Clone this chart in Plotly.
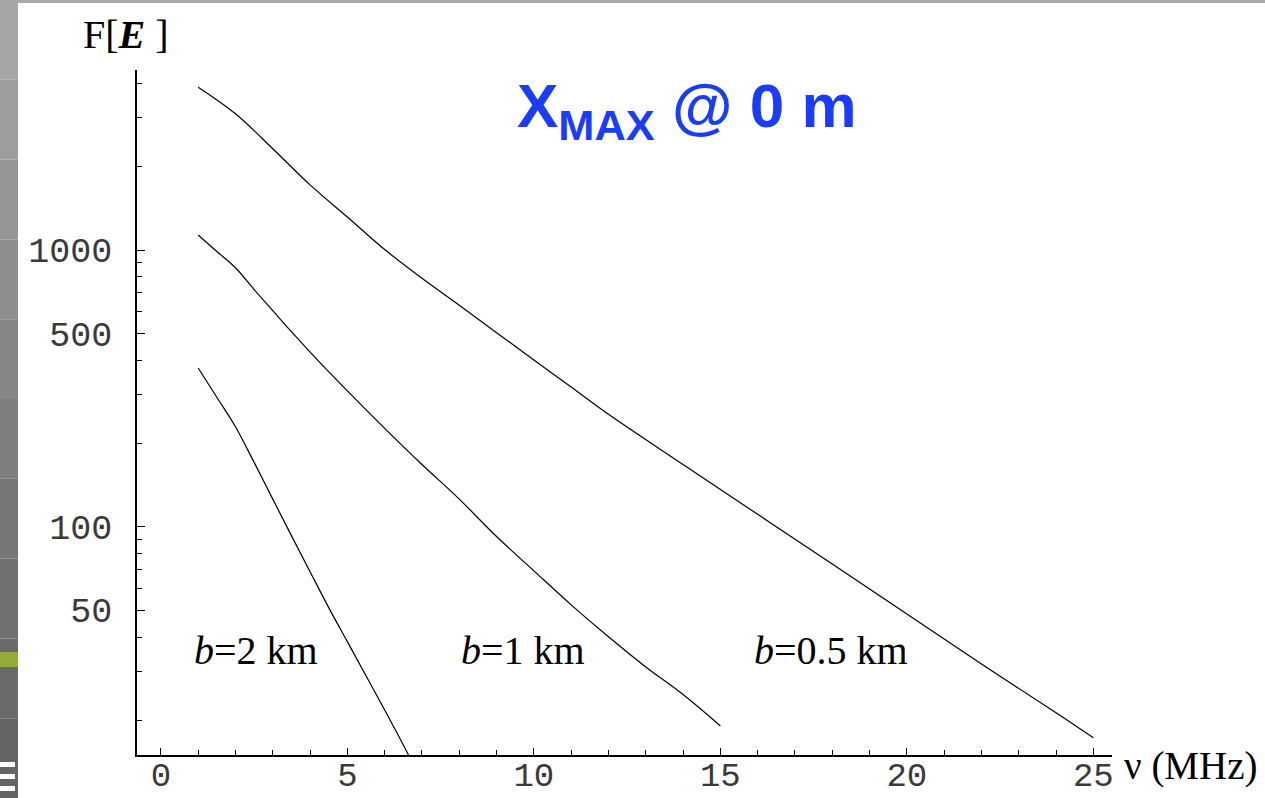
import math
import plotly.graph_objects as go

# ---- data ----
nu_b05 = [1, 2, 3, 4, 5, 6, 7, 8, 9, 10, 11, 12, 14, 16, 18, 20, 22, 24, 25]
F_b05 = [3874, 3105, 2323, 1719, 1316, 1004, 791, 632, 503, 401, 320, 255, 168, 111, 73.5, 48.5, 32.0, 21.3, 17.3]

nu_b1 = [1, 1.5, 2, 2.5, 3, 3.5, 4, 5, 6, 7, 8, 9, 10, 11, 12, 13, 14, 15]
F_b1 = [1133, 988, 863, 720, 604, 507, 428, 310, 227, 168, 126, 92.3, 69.4, 52.3, 40.1, 31.2, 24.8, 19.1]

nu_b2 = [1, 1.5, 2, 2.5, 3, 3.5, 4, 4.5, 5, 5.5, 6, 6.5, 7]
F_b2 = [375, 294, 230, 171, 126, 93, 68.9, 51.1, 38.5, 29.0, 21.8, 16.3, 12.0]

x_ticks = [0, 5, 10, 15, 20, 25]
y_ticks = [50, 100, 500, 1000]
y_minor = [20, 30, 40, 60, 70, 80, 90, 200, 300, 400, 600, 700, 800, 900, 2000, 3000, 4000]
curve_labels = ["<i>b</i>=2 km", "<i>b</i>=1 km", "<i>b</i>=0.5 km"]

# ---- layout geometry (pixels) ----
W, H = 1265, 798
ML, MR, MT, MB = 137, 153, 70, 43
PW, PH = W - ML - MR, H - MT - MB


def px(x):
    return (x - ML) / PW


def py(y):
    return (H - MB - y) / PH


fig = go.Figure()
for nu, F in [(nu_b05, F_b05), (nu_b1, F_b1), (nu_b2, F_b2)]:
    fig.add_trace(go.Scatter(x=nu, y=F, mode="lines",
                             line=dict(color="black", width=1.2, shape="spline", smoothing=1.0),
                             showlegend=False, hoverinfo="skip"))

serif = "Liberation Serif"
mono = "Liberation Mono"

fig.update_xaxes(range=[-0.64, 25.5], automargin=False, showline=True, linecolor="black",
                 linewidth=1.5, showgrid=False, zeroline=False, ticks="inside", ticklen=7,
                 tickwidth=1, tickcolor="black", tickmode="array", tickvals=x_ticks,
                 ticktext=[str(v) for v in x_ticks],
                 tickfont=dict(family=mono, size=34, color="#3a3a3a"), ticklabelstandoff=-12,
                 minor=dict(ticks="inside", ticklen=5, tickwidth=1, tickcolor="black",
                            dtick=1, tick0=0, showgrid=False))
fig.update_yaxes(type="log", range=[math.log10(15), math.log10(4470)], automargin=False,
                 showline=True, linecolor="black", linewidth=1.5, showgrid=False,
                 zeroline=False, ticks="inside", ticklen=8, tickwidth=1, tickcolor="black",
                 tickmode="array", tickvals=y_ticks, ticktext=[str(v) for v in y_ticks],
                 tickfont=dict(family=mono, size=35, color="#3a3a3a"), ticklabelstandoff=16,
                 minor=dict(ticks="inside", ticklen=5, tickwidth=1, tickcolor="black",
                            tickmode="array", tickvals=y_minor, showgrid=False))

ann = []
# axis titles
ann.append(dict(text="F[<b><i>E</i></b> ]", x=px(126), y=py(34), xref="paper", yref="paper",
                xanchor="center", yanchor="middle", showarrow=False,
                font=dict(family=serif, size=40, color="black")))
ann.append(dict(text="ν (MHz)", x=px(1122), y=py(766), xref="paper", yref="paper",
                xanchor="left", yanchor="middle", showarrow=False,
                font=dict(family=serif, size=39, color="black")))
# curve labels
for lab, xl in zip(curve_labels, [192, 459, 752]):
    ann.append(dict(text=lab, x=px(xl), y=py(650), xref="paper", yref="paper",
                    xanchor="left", yanchor="middle", showarrow=False,
                    font=dict(family=serif, size=40, color="black")))
# title
ann.append(dict(text="<b>X<sub>MAX</sub> @ 0 m</b>", x=px(687), y=py(110), xref="paper",
                yref="paper", xanchor="center", yanchor="middle", showarrow=False,
                font=dict(family="Liberation Sans", size=62, color="#1a3cff")))

# slide decoration: left strip, top strip, green bar, white lines
shapes = []
grays = ["#a6a6a6", "#9e9e9e", "#969696", "#8e8e8e", "#868686", "#7e7e7e",
         "#777777", "#707070", "#6a6a6a", "#646464"]
n = len(grays)
for i, g in enumerate(grays):
    y0 = i * H / n
    y1 = (i + 1) * H / n
    shapes.append(dict(type="rect", xref="paper", yref="paper", x0=px(0), x1=px(18),
                       y0=py(y1), y1=py(y0), fillcolor=g, line=dict(width=0), layer="below"))
shapes.append(dict(type="rect", xref="paper", yref="paper", x0=px(0), x1=px(W),
                   y0=py(3), y1=py(0), fillcolor="#a8a8a8", line=dict(width=0), layer="below"))
shapes.append(dict(type="rect", xref="paper", yref="paper", x0=px(0), x1=px(18),
                   y0=py(667), y1=py(652), fillcolor="#94ab3b", line=dict(width=0), layer="below"))
for yy in [762, 774, 786]:
    shapes.append(dict(type="rect", xref="paper", yref="paper", x0=px(0), x1=px(15),
                       y0=py(yy + 5), y1=py(yy), fillcolor="white", line=dict(width=0),
                       layer="below"))

fig.update_layout(width=W, height=H, margin=dict(l=ML, r=MR, t=MT, b=MB),
                  paper_bgcolor="white", plot_bgcolor="white",
                  annotations=ann, shapes=shapes, showlegend=False)

fig.write_html("out.html", config={"displayModeBar": False},
               post_script="document.body.style.margin='0';document.body.style.overflow='hidden';")
